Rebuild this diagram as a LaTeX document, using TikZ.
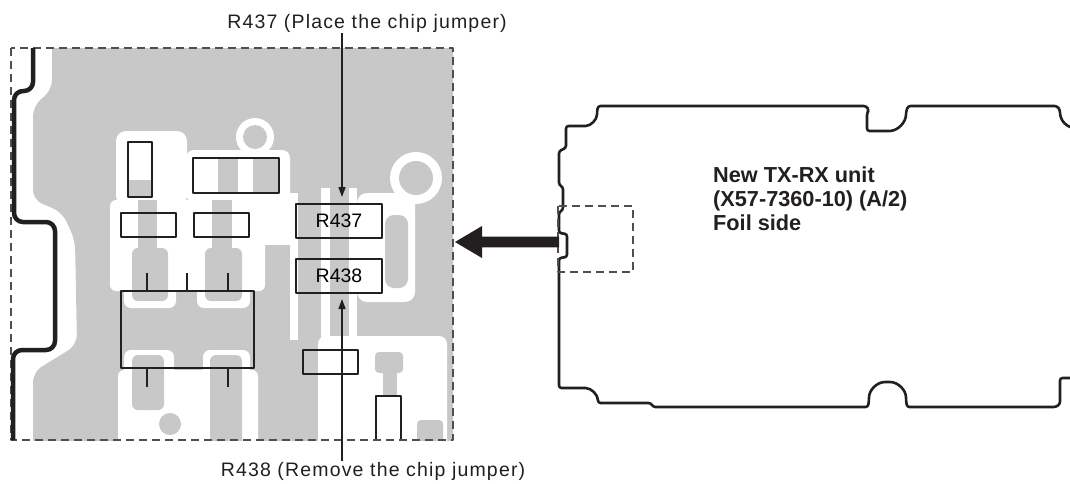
\documentclass[tikz,border=0pt]{standalone}
\usepackage{fontspec}
\setmainfont{Liberation Sans}
\newfontfamily\lblfont[LetterSpace=6]{Liberation Sans}
\usetikzlibrary{arrows.meta}
\definecolor{pcbgray}{RGB}{200,200,200}
\definecolor{ink}{RGB}{35,31,32}
\definecolor{dashgray}{RGB}{80,78,78}
\begin{document}
\begin{tikzpicture}[x=1pt,y=-1pt,line join=round,
  part/.style={draw=ink,line width=2.2pt,inner sep=0pt,outer sep=0pt},
  partline/.style={draw=ink,line width=2.2pt},
  jumper/.style={part,font=\fontsize{19.5}{22}\selectfont},
  lbl/.style={font=\lblfont\fontsize{19.5}{22}\selectfont,text=ink,inner sep=1pt},
  pointer/.style={draw=ink,line width=1.5pt,-{Triangle[length=10pt,width=7pt]}},
  dashframe/.style={draw=dashgray,line width=1.3pt,dash pattern=on 8pt off 5pt},
  board/.style={draw=ink,line width=2.6pt,rounded corners=2.5pt},
  edge/.style={draw=ink,line width=4.5pt,rounded corners=9pt},
  boardtext/.style={font=\bfseries\fontsize{21.7}{24}\selectfont,text=ink,align=left,inner sep=0pt}]
\useasboundingbox (0,0) rectangle (1070,483);

% ---------- PCB artwork ----------
\begin{scope}
\clip (11,48) rectangle (453,440);
\fill[pcbgray,rounded corners=10pt] (52,30) -- (52,90) -- (33,106) -- (33,200) -- (62,212) -- (75,240) -- (77,345) -- (33,372) -- (33,470) -- (480,470) -- (480,30) -- cycle;
% upper left component island
\fill[white,rounded corners=10pt] (116,131) rectangle (187,206);
\fill[white] (170,150) circle (13);
\fill[white] (255,137) circle (19);
\fill[white,rounded corners=8pt] (186,150) rectangle (290,202);
\fill[pcbgray] (255,137) circle (12);
\fill[pcbgray] (128,180) rectangle (152,197);
\fill[pcbgray] (218,158) rectangle (238,193);
\fill[pcbgray] (253,158) rectangle (279,193);
% region between rows and IC
\fill[white,rounded corners=6pt] (110,200) rectangle (265,291);
\fill[white] (250,193) rectangle (298,245);
\fill[white,rounded corners=7pt] (124,284) rectangle (176,308);
\fill[white,rounded corners=7pt] (197,284) rectangle (250,308);
\fill[pcbgray] (138,200) rectangle (157,255);
\fill[pcbgray] (212,200) rectangle (232,255);
\fill[pcbgray,rounded corners=6pt] (132,248) rectangle (168,301);
\fill[pcbgray,rounded corners=6pt] (205,248) rectangle (242,301);
% below IC
\fill[white,rounded corners=6pt] (118,370) rectangle (258,460);
\fill[white,rounded corners=7pt] (124,350) rectangle (174,376);
\fill[white,rounded corners=7pt] (203,350) rectangle (250,376);
\fill[pcbgray,rounded corners=6pt] (132,355) rectangle (164,410);
\fill[pcbgray] (170,424) circle (11);
\fill[pcbgray,rounded corners=6pt] (210,355) rectangle (242,460);
% around jumpers
\fill[white] (290,240) rectangle (298,340);
\fill[white] (321,188) rectangle (330,345);
\fill[white] (349,188) rectangle (357,345);
\fill[white,rounded corners=10pt] (357,193) rectangle (415,302);
\fill[pcbgray,rounded corners=9pt] (385,215) rectangle (408,288);
% ring
\fill[white] (416,178) circle (26);
\fill[pcbgray] (416,178) circle (17);
% lower right island
\fill[white,rounded corners=8pt] (318,336) rectangle (447,460);
\fill[pcbgray,rounded corners=4pt] (375,352) rectangle (403,373);
\fill[pcbgray] (383,370) rectangle (397,397);
\fill[pcbgray,rounded corners=4pt] (417,420) rectangle (443,460);
\fill[white] (318,350) rectangle (358,374);
\end{scope}

% ---------- components ----------
\node[part,minimum width=24pt,minimum height=55pt] (vcomp) at (140,169.5) {};
\node[part,minimum width=86pt,minimum height=35pt] (hcomp) at (236,175.5) {};
\node[part,minimum width=55pt,minimum height=24pt] (ra) at (148.5,225) {};
\node[part,minimum width=55pt,minimum height=24pt] (rb) at (221.5,225) {};
\node[part,minimum width=133pt,minimum height=77pt] (ic) at (187.5,329.5) {};
\draw[partline] (147,273) -- (147,291) (187,273) -- (187,291) (228,273) -- (228,291);
\draw[partline] (147,368) -- (147,387) (228,368) -- (228,387);
\node[part,minimum width=55pt,minimum height=24pt] (sh) at (330.5,362) {};
\draw[partline] (376,440) -- (376,396) -- (401,396) -- (401,440);
\node[jumper,minimum width=86pt,minimum height=34pt] (r437) at (339,221) {R437};
\node[jumper,minimum width=86pt,minimum height=34pt] (r438) at (339,276) {R438};

% frame and board edge
\draw[dashframe] (11,48) rectangle (453,440);
\draw[edge] (33,48) -- (33,91) -- (14,91) -- (14,222) -- (55,222) -- (55,350) -- (13,350) -- (13,440);

% labels and pointers
\node[lbl,anchor=base] (toplbl) at (367,28) {R437 (Place the chip jumper)};
\node[lbl,anchor=base] (botlbl) at (373,476.5) {R438 (Remove the chip jumper)};
\draw[pointer,shorten >=7pt] ([xshift=3pt]r437.north |- toplbl.south) -- ([xshift=3pt]r437.north);
\draw[pointer,shorten >=6pt] ([xshift=3pt]r438.south |- botlbl.north) -- ([xshift=3pt]r438.south);

% ---------- new unit outline ----------
\draw[board] (598,106) -- (866,106) -- (869,110) -- (867,113) -- (867,131) -- (887,131)
  .. controls (897.5,131) and (906,122.5) .. (906,112) -- (908,106) -- (1057,106) -- (1060,110)
  .. controls (1060,120.8) and (1067.2,128) .. (1078,128) -- (1078,378) -- (1060,378) -- (1060,404) -- (1056,407)
  -- (907,407) -- (906,400) .. controls (906,390) and (898,382) .. (887.5,382)
  .. controls (877,382) and (869,390) .. (869,400) -- (868,407) -- (653,407) -- (651,403) -- (598,403)
  .. controls (598,394.7) and (591.3,388) .. (583,388) -- (559,388) -- (559,258) -- (567,257) -- (567,234)
  -- (559,233) -- (559,212) -- (563,210) -- (563,187) -- (559,185) -- (559,151) -- (566,148) -- (566,126)
  -- (583,126) .. controls (590.7,126) and (597,119.7) .. (597,112) -- cycle;
\draw[dashframe] (558,206) rectangle (633,272);
\node[boardtext,anchor=base west] (unit) at (713,230) {New TX-RX unit\\(X57-7360-10) (A/2)\\Foil side};

% big arrow
\coordinate (bigtip) at (455,242);
\fill[ink] (bigtip) -- ++(27,-16) -- ++(0,10.7) -- ++(77,0) -- ++(0,10.6) -- ++(-77,0) -- ++(0,10.7) -- cycle;
\end{tikzpicture}
\end{document}
